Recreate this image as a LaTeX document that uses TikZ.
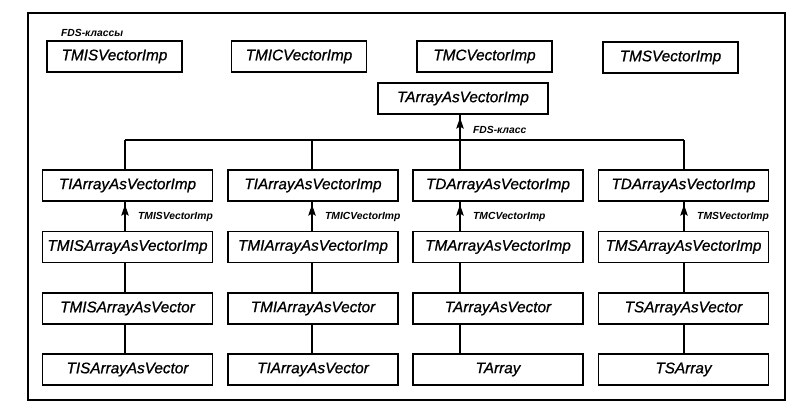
\documentclass[tikz,border=0pt]{standalone}
\usepackage{fontspec}
\setmainfont{Liberation Sans}
\newfontfamily\boxfont[ItalicFeatures={FakeBold=0.8}]{Liberation Sans}
\usetikzlibrary{arrows.meta}
\begin{document}
\begin{tikzpicture}[x=1pt,y=-1pt,
  box/.style={draw, line width=1.3pt, minimum height=31pt, inner sep=0pt, font=\fontsize{15.3}{18}\boxfont\itshape},
  topbox/.style={box, minimum width=135pt},
  rowbox/.style={box, minimum width=170pt},
  lbl/.style={font=\fontsize{10.3}{12}\selectfont\bfseries\itshape, inner sep=0pt, anchor=west},
  conn/.style={line width=1.2pt},
  uparrow/.style={line width=1.2pt, -{Stealth[length=11pt,width=7.5pt,inset=2pt]}, shorten >=3pt}]
\useasboundingbox (0,0) rectangle (800,410);
\draw[line width=1.3pt] (28,13) rectangle (785,400);
% top row
\node[lbl] (fdsk) at (61,33) {FDS-классы};
\node[topbox] (tmis) at (114.5,56.5) {TMISVectorImp};
\node[topbox] (tmic) at (299,56.5) {TMICVectorImp};
\node[topbox] (tmc) at (484.5,56.5) {TMCVectorImp};
\node[topbox] (tms) at (670.5,57.5) {TMSVectorImp};
\node[rowbox] (tav) at (463,98.5) {TArrayAsVectorImp};
% bus coordinates
\coordinate (b1) at (125,140);
\coordinate (b2) at (312,140);
\coordinate (b3) at (460,140);
\coordinate (b4) at (684,140);
% rows
\node[rowbox] (r2c1) at (127.5,185.5) {TIArrayAsVectorImp};
\node[rowbox] (r2c2) at (313,185.5) {TIArrayAsVectorImp};
\node[rowbox] (r2c3) at (498,185.5) {TDArrayAsVectorImp};
\node[rowbox] (r2c4) at (683.5,185.5) {TDArrayAsVectorImp};
\node[rowbox] (r3c1) at (127.5,247) {TMISArrayAsVectorImp};
\node[rowbox] (r3c2) at (313,247) {TMIArrayAsVectorImp};
\node[rowbox] (r3c3) at (498,247) {TMArrayAsVectorImp};
\node[rowbox] (r3c4) at (683.5,247) {TMSArrayAsVectorImp};
\node[rowbox] (r4c1) at (127.5,308.5) {TMISArrayAsVector};
\node[rowbox] (r4c2) at (313,308.5) {TMIArrayAsVector};
\node[rowbox] (r4c3) at (498,308.5) {TArrayAsVector};
\node[rowbox] (r4c4) at (683.5,308.5) {TSArrayAsVector};
\node[rowbox] (r5c1) at (127.5,369.5) {TISArrayAsVector};
\node[rowbox] (r5c2) at (313,369.5) {TIArrayAsVector};
\node[rowbox] (r5c3) at (498,369.5) {TArray};
\node[rowbox] (r5c4) at (683.5,369.5) {TSArray};
% bus
\draw[conn] (b1) -- (b4);
\draw[conn] (b3) -- (b3 |- tav.south);
\draw[uparrow] (b3) -- (b3 |- tav.south);
\node[lbl] (fds) at (473,130) {FDS-класс};
\foreach \c in {1,2,3,4} {
  \draw[conn] (b\c) -- (b\c |- r2c\c.north);
  \draw[conn] (b\c |- r3c\c.north) -- (b\c |- r2c\c.south);
  \draw[uparrow] (b\c |- r3c\c.north) -- (b\c |- r2c\c.south);
  \draw[conn] (b\c |- r3c\c.south) -- (b\c |- r4c\c.north);
  \draw[conn] (b\c |- r4c\c.south) -- (b\c |- r5c\c.north);
}
\node[lbl] (l1) at ([xshift=13pt]b1 |- 0,217) {TMISVectorImp};
\node[lbl] (l2) at ([xshift=13pt]b2 |- 0,217) {TMICVectorImp};
\node[lbl] (l3) at ([xshift=13pt]b3 |- 0,217) {TMCVectorImp};
\node[lbl] (l4) at ([xshift=13pt]b4 |- 0,217) {TMSVectorImp};
\end{tikzpicture}
\end{document}
